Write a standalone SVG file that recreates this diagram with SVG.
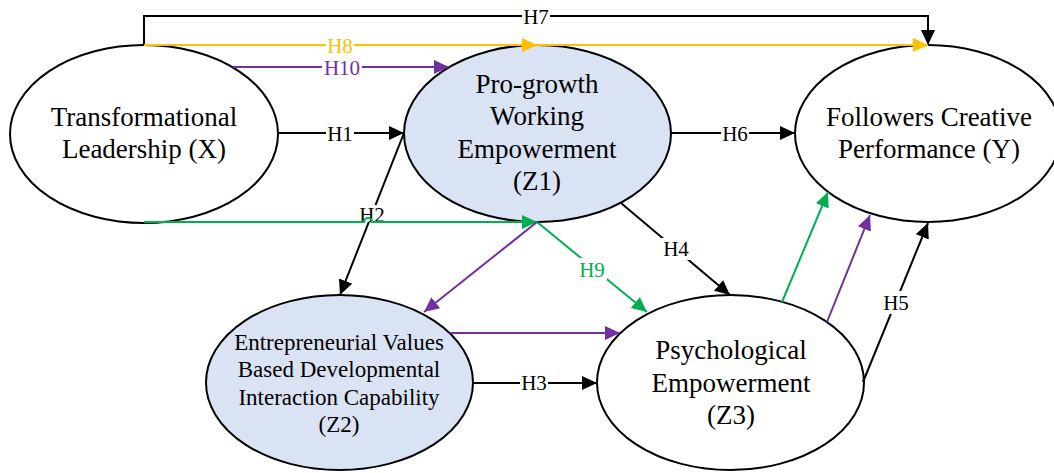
<svg xmlns="http://www.w3.org/2000/svg" width="1054" height="473" viewBox="0 0 1054 473">
<defs>
<style>
.node{stroke:#000;stroke-width:2}
.plain{fill:#fff}
.blue{fill:#DAE3F3}
text{font-family:'Liberation Serif','Times New Roman',Times,serif}
.t{font-size:27px;fill:#000;text-anchor:middle}
.ts{font-size:23px;fill:#000;text-anchor:middle}
.lbl{font-size:21px;text-anchor:middle}
.c{fill:none;stroke-width:2}
.k{stroke:#000}
.y{stroke:#FFC000}
.p{stroke:#7030A0}
.g{stroke:#00B050}
.bg{fill:#fff}
</style>
<marker id="ak" markerUnits="userSpaceOnUse" markerWidth="16" markerHeight="14" refX="15" refY="7" orient="auto"><path d="M0,0 L15,7 L0,14 z" fill="#000"/></marker>
<marker id="ay" markerUnits="userSpaceOnUse" markerWidth="16" markerHeight="14" refX="15" refY="7" orient="auto"><path d="M0,0 L15,7 L0,14 z" fill="#FFC000"/></marker>
<marker id="ap" markerUnits="userSpaceOnUse" markerWidth="16" markerHeight="14" refX="15" refY="7" orient="auto"><path d="M0,0 L15,7 L0,14 z" fill="#7030A0"/></marker>
<marker id="ag" markerUnits="userSpaceOnUse" markerWidth="16" markerHeight="14" refX="15" refY="7" orient="auto"><path d="M0,0 L15,7 L0,14 z" fill="#00B050"/></marker>
</defs>
<rect width="1054" height="473" fill="#fff"/>

<g id="node-X">
<ellipse class="node plain" cx="144" cy="134" rx="134" ry="89"/>
<text class="t" font-family="Liberation Serif, serif" x="144" y="126">Transformational</text>
<text class="t" font-family="Liberation Serif, serif" x="144" y="158">Leadership (X)</text>
</g>
<g id="node-Z1">
<ellipse class="node blue" cx="537.5" cy="133.5" rx="133.5" ry="88.5"/>
<text class="t" font-family="Liberation Serif, serif" x="537" y="93">Pro-growth</text>
<text class="t" font-family="Liberation Serif, serif" x="537" y="125">Working</text>
<text class="t" font-family="Liberation Serif, serif" x="537" y="158">Empowerment</text>
<text class="t" font-family="Liberation Serif, serif" x="537" y="190">(Z1)</text>
</g>
<g id="node-Y">
<ellipse class="node plain" cx="928" cy="133.5" rx="133" ry="88.5"/>
<text class="t" font-family="Liberation Serif, serif" x="929" y="126">Followers Creative</text>
<text class="t" font-family="Liberation Serif, serif" x="929" y="158">Performance (Y)</text>
</g>
<g id="node-Z2">
<ellipse class="node blue" cx="339.5" cy="382.5" rx="133.5" ry="87.5"/>
<text class="ts" font-family="Liberation Serif, serif" x="339" y="350">Entrepreneurial Values</text>
<text class="ts" font-family="Liberation Serif, serif" x="339" y="377">Based Developmental</text>
<text class="ts" font-family="Liberation Serif, serif" x="339" y="405">Interaction Capability</text>
<text class="ts" font-family="Liberation Serif, serif" x="339" y="432">(Z2)</text>
</g>
<g id="node-Z3">
<ellipse class="node plain" cx="730.5" cy="382.5" rx="133.5" ry="87.5"/>
<text class="t" font-family="Liberation Serif, serif" x="731" y="359">Psychological</text>
<text class="t" font-family="Liberation Serif, serif" x="731" y="392">Empowerment</text>
<text class="t" font-family="Liberation Serif, serif" x="731" y="424">(Z3)</text>
</g>

<g id="connectors" font-family="Liberation Serif, serif">
<path class="c k" d="M144,45 V16 H928 V45" marker-end="url(#ak)"/>
<rect class="bg" x="522" y="7" width="28" height="18"/>
<text class="lbl" x="536" y="24" fill="#000">H7</text>
<path class="c y" d="M144,45 H537" marker-end="url(#ay)"/>
<path class="c y" d="M537,45 H928" marker-end="url(#ay)"/>
<rect class="bg" x="326" y="38" width="28" height="15"/>
<text class="lbl" x="340" y="53" fill="#FFC000">H8</text>
<path class="c p" d="M233,67 H449" marker-end="url(#ap)"/>
<rect class="bg" x="322" y="59" width="40" height="16"/>
<text class="lbl" x="342" y="75" fill="#7030A0">H10</text>
<path class="c k" d="M278,133 H404" marker-end="url(#ak)"/>
<rect class="bg" x="326" y="124" width="28" height="18"/>
<text class="lbl" x="340" y="141" fill="#000">H1</text>
<path class="c k" d="M671,133 H795" marker-end="url(#ak)"/>
<rect class="bg" x="721" y="124" width="28" height="18"/>
<text class="lbl" x="735" y="141" fill="#000">H6</text>
<path class="c k" d="M404,133 L340,295" marker-end="url(#ak)"/>
<rect class="bg" x="358" y="205" width="28" height="17"/>
<text class="lbl" x="372" y="222" fill="#000">H2</text>
<path class="c g" d="M144,222 H364 a4,4 0 0 1 8,0 H537" marker-end="url(#ag)"/>
<path class="c g" d="M537,222 L647,312" marker-end="url(#ag)"/>
<rect class="bg" x="577" y="258" width="30" height="22"/>
<text class="lbl" x="592" y="277" fill="#00B050">H9</text>
<path class="c p" d="M537,222 L424,312" marker-end="url(#ap)"/>
<path class="c k" d="M621,203 L730,295" marker-end="url(#ak)"/>
<rect class="bg" x="661" y="238" width="30" height="22"/>
<text class="lbl" x="676" y="256" fill="#000">H4</text>
<path class="c p" d="M450,333 H620" marker-end="url(#ap)"/>
<path class="c k" d="M473,383 H597" marker-end="url(#ak)"/>
<rect class="bg" x="520" y="373" width="28" height="19"/>
<text class="lbl" x="534" y="390" fill="#000">H3</text>
<path class="c g" d="M782,302 L828,192" marker-end="url(#ag)"/>
<path class="c p" d="M827,322 L870,215" marker-end="url(#ap)"/>
<path class="c k" d="M863,382 L928,223" marker-end="url(#ak)"/>
<rect class="bg" x="882" y="291" width="29" height="23"/>
<text class="lbl" x="896" y="310" fill="#000">H5</text>
</g>
</svg>
